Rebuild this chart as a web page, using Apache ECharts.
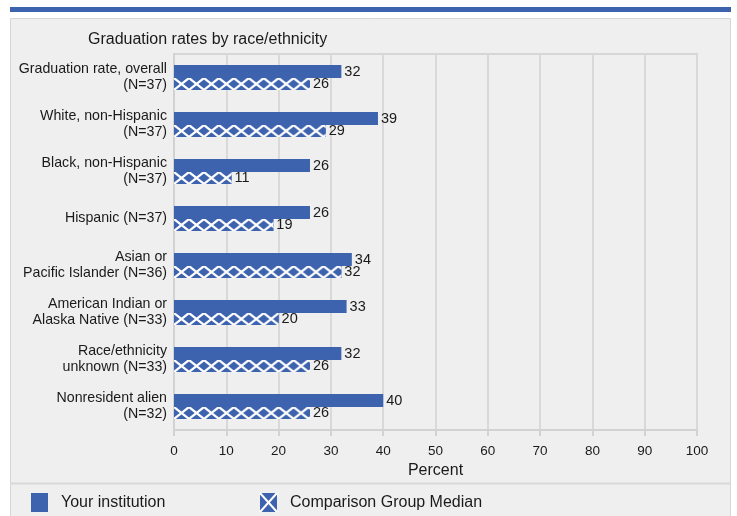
<!DOCTYPE html>
<html><head><meta charset="utf-8">
<script src="https://cdn.jsdelivr.net/npm/echarts@6/dist/echarts.min.js"></script>
<style>html,body{margin:0;padding:0;background:#fff}#c{width:737px;height:516px}</style>
</head><body><div id="c"></div>
<script>
const categories = ["Graduation rate, overall\n(N=37)","White, non-Hispanic\n(N=37)","Black, non-Hispanic\n(N=37)","Hispanic (N=37)","Asian or\nPacific Islander (N=36)","American Indian or\nAlaska Native (N=33)","Race/ethnicity\nunknown (N=33)","Nonresident alien\n(N=32)"];
const yourInstitution = [32,39,26,26,34,33,32,40];
const comparisonMedian = [26,29,11,19,32,20,26,26];
const xTicks = [0,10,20,30,40,50,60,70,80,90,100];

const BLUE = '#3d62ae';
const FONT = 'Liberation Sans, Arial, sans-serif';
const TXT = '#1a1a1a';

// one tile of the hatch pattern (blue with a white X)
const tile = document.createElement('canvas');
tile.width = 15; tile.height = 12;
const g = tile.getContext('2d');
g.fillStyle = BLUE; g.fillRect(0,0,15,12);
g.strokeStyle = '#ffffff'; g.lineWidth = 2.2;
g.beginPath(); g.moveTo(0,0); g.lineTo(15,12); g.moveTo(15,0); g.lineTo(0,12); g.stroke();
const tileURL = tile.toDataURL();

const chart = echarts.init(document.getElementById('c'), null, {renderer:'canvas'});
chart.setOption({
  animation:false,
  backgroundColor:'#ffffff',
  textStyle:{fontFamily:FONT},
  graphic:[
    {type:'rect', shape:{x:10,y:7,width:721,height:5}, style:{fill:'#3d62ae'}, z:0},
    {type:'rect', shape:{x:10.5,y:18.5,width:720,height:510}, style:{fill:'#efefef', stroke:'#d6d6d6', lineWidth:1}, z:-1, silent:true},
    {type:'line', shape:{x1:10,y1:483.5,x2:731,y2:483.5}, style:{stroke:'#d8d8d8', lineWidth:2}},
    {type:'text', x:88, y:32, style:{text:'Graduation rates by race/ethnicity', font:'16px '+FONT, fill:TXT}},
    {type:'rect', shape:{x:31,y:493,width:17,height:19}, style:{fill:BLUE}},
    {type:'text', x:61, y:495, style:{text:'Your institution', font:'16px '+FONT, fill:TXT}},
    {type:'rect', shape:{x:260,y:493,width:17,height:19}, style:{fill:BLUE}},
    {type:'line', shape:{x1:260,y1:493,x2:277,y2:512}, style:{stroke:'#fff', lineWidth:2}},
    {type:'line', shape:{x1:277,y1:493,x2:260,y2:512}, style:{stroke:'#fff', lineWidth:2}},
    {type:'text', x:290, y:495, style:{text:'Comparison Group Median', font:'16px '+FONT, fill:TXT}}
  ],
  grid:{left:174, right:40, top:54, bottom:86, show:true, borderColor:'#d6d6d6', borderWidth:2, backgroundColor:'transparent'},
  xAxis:{type:'value', min:0, max:100, interval:10,
    name:'Percent', nameLocation:'middle', nameGap:33, nameTextStyle:{fontSize:16, color:TXT, fontFamily:FONT},
    axisLine:{show:true, lineStyle:{color:'#d2d2d2', width:2}},
    axisTick:{show:true, length:6, lineStyle:{color:'#d2d2d2', width:2}},
    axisLabel:{color:TXT, fontSize:13.5, margin:14, formatter:(v)=>xTicks.includes(v)?String(v):''},
    splitLine:{show:true, lineStyle:{color:'#d9d9d9', width:2}}
  },
  yAxis:{type:'category', data:categories, inverse:true,
    axisLine:{show:true, lineStyle:{color:'#d2d2d2', width:2}},
    axisTick:{show:false},
    axisLabel:{color:TXT, fontSize:14.2, lineHeight:16, margin:7, align:'right', padding:[4,0,0,0]}
  },
  series:[
    {name:'Your institution', type:'bar', data:yourInstitution, barWidth:13, barGap:'0%',
      itemStyle:{color:BLUE},
      label:{show:true, position:'right', distance:3, color:TXT, fontSize:14.5, fontFamily:FONT, padding:[2,0,0,0]}},
    {name:'Comparison Group Median', type:'bar', data:comparisonMedian, barWidth:12, barGap:'0%',
      itemStyle:{color:BLUE},
      label:{show:true, position:'right', distance:3, color:TXT, fontSize:14.5, fontFamily:FONT, padding:[2,0,0,0]}},
    {name:'Comparison Group Median pattern', type:'pictorialBar', data:comparisonMedian,
      symbol:'image://' + tileURL, symbolSize:[15,12], symbolOffset:[0,6.5],
      symbolRepeat:true, symbolClip:true, symbolPosition:'start', symbolMargin:0,
      z:3, silent:true}
  ]
});
</script></body></html>
